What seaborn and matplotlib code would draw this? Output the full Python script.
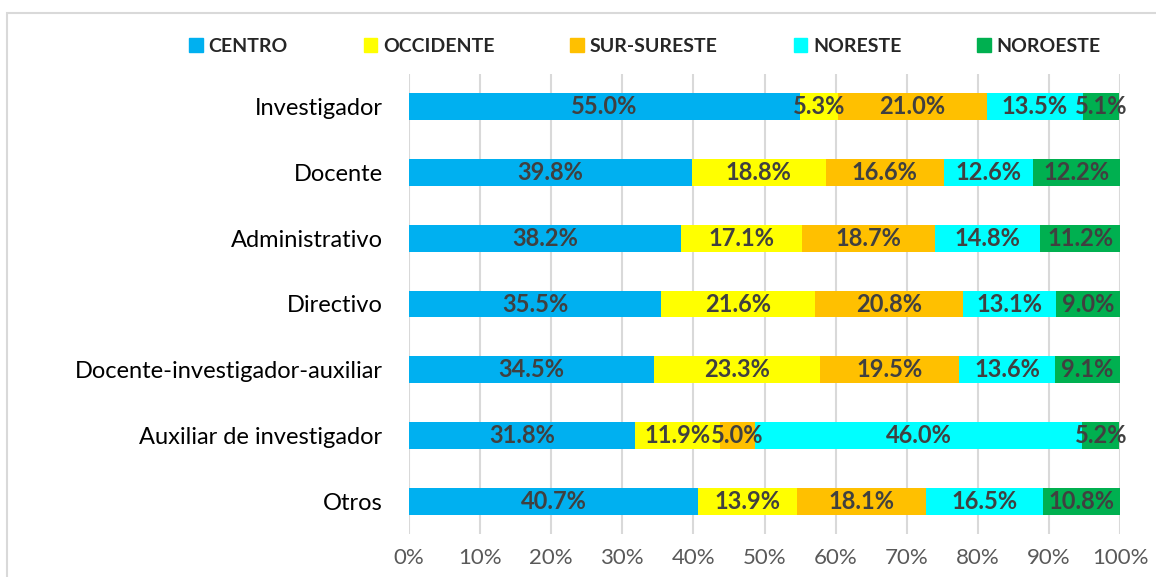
import matplotlib
matplotlib.use("Agg")
import matplotlib.pyplot as plt
import matplotlib.patches as mpatches
import numpy as np
import pandas as pd
import seaborn as sns

# Datos (porcentajes por región)
categorias = ["Investigador", "Docente", "Administrativo", "Directivo",
              "Docente-investigador-auxiliar", "Auxiliar de investigador", "Otros"]
regiones = ["CENTRO", "OCCIDENTE", "SUR-SURESTE", "NORESTE", "NOROESTE"]
centro = [55.0, 39.8, 38.2, 35.5, 34.5, 31.8, 40.7]
occidente = [5.3, 18.8, 17.1, 21.6, 23.3, 11.9, 13.9]
sur_sureste = [21.0, 16.6, 18.7, 20.8, 19.5, 5.0, 18.1]
noreste = [13.5, 12.6, 14.8, 13.1, 13.6, 46.0, 16.5]
noroeste = [5.1, 12.2, 11.2, 9.0, 9.1, 5.2, 10.8]
ticks = [0, 10, 20, 30, 40, 50, 60, 70, 80, 90, 100]

colores = ["#00B0F0", "#FFFF00", "#FFC000", "#00FFFF", "#00B050"]

df = pd.DataFrame({"cat": categorias, "CENTRO": centro, "OCCIDENTE": occidente,
                   "SUR-SURESTE": sur_sureste, "NORESTE": noreste, "NOROESTE": noroeste})
vals = df[regiones].to_numpy()
cum = np.cumsum(vals, axis=1)

sns.set_style("white")
plt.rcParams["font.family"] = ["Lato", "DejaVu Sans"]

fig = plt.figure(figsize=(11.56, 5.77), dpi=100)
ax = fig.add_axes([409 / 1156, 1 - 534 / 577, (1120 - 409) / 1156, (534 - 74) / 577])

# barras apiladas: se dibujan acumulados de mayor a menor
for i in range(len(regiones) - 1, -1, -1):
    sns.barplot(x=cum[:, i], y=df["cat"], orient="h", color=colores[i],
                width=0.41, saturation=1, ax=ax, zorder=3, linewidth=0)

# etiquetas de datos
for r in range(len(categorias)):
    for i in range(len(regiones)):
        xc = cum[r, i] - vals[r, i] / 2
        ax.text(xc, r, f"{vals[r, i]:.1f}%", ha="center", va="center",
                fontsize=17, fontweight="bold", color="#404040", zorder=5)

ax.set_xlim(0, 100)
ax.set_ylim(6.5, -0.5)
ax.set_xticks(ticks)
ax.set_xticklabels([f"{t}%" for t in ticks], fontsize=16, color="#595959")
ax.tick_params(axis="y", labelsize=17, length=0, pad=19, labelcolor="#000000")
ax.tick_params(axis="x", length=0, pad=10)
ax.set_xlabel("")
ax.set_ylabel("")
ax.grid(axis="x", color="#D9D9D9", linewidth=1.5, zorder=0)
ax.grid(axis="y", visible=False)
for s in ax.spines.values():
    s.set_visible(False)

handles = [mpatches.Patch(color=c, label=l) for c, l in zip(colores, regiones)]
fig.legend(handles=handles, loc="center", bbox_to_anchor=(645 / 1156, 1 - 46 / 577),
           ncol=5, frameon=False, prop={"weight": "bold", "size": 14},
           handlelength=0.7, handleheight=0.7, handletextpad=0.3, columnspacing=3.9)

# borde del gráfico
fig.patches.append(mpatches.Rectangle((7 / 1156, -0.2), 1.2, 1.2 - 13 / 577,
                                      transform=fig.transFigure, fill=False,
                                      edgecolor="#D9D9D9", linewidth=1.5))

fig.savefig("out.png", dpi=100)
